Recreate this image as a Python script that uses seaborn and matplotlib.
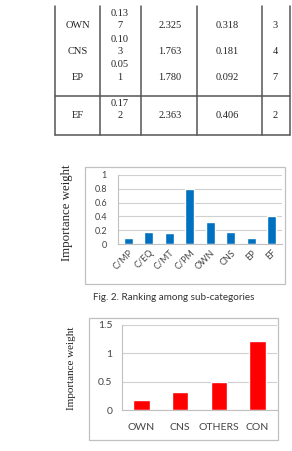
import matplotlib
matplotlib.use("Agg")
import matplotlib.pyplot as plt
import seaborn as sns
import pandas as pd
from matplotlib.patches import Rectangle

# table rows (cut off at top of page)
tab_names = ["OWN", "CNS", "EP", "EF"]
tab_col2 = ["0.137", "0.103", "0.051", "0.172"]
tab_col3 = ["2.325", "1.763", "1.780", "2.363"]
tab_col4 = ["0.318", "0.181", "0.092", "0.406"]
tab_rank = ["3", "4", "7", "2"]

# Fig. 2 sub-categories
sub_cats = ["C/MP", "C/EQ", "C/MT", "C/PM", "OWN", "CNS", "EP", "EF"]
sub_vals = [0.08, 0.17, 0.16, 0.79, 0.318, 0.181, 0.092, 0.406]

# main categories
main_cats = ["OWN", "CNS", "OTHERS", "CON"]
main_vals = [0.18, 0.32, 0.50, 1.21]

sns.set_style("white")
W, H = 292, 451
fig = plt.figure(figsize=(W / 100, H / 100), dpi=100)

# overlay in pixel coords for the page bits (table, frames, captions)
page = fig.add_axes([0, 0, 1, 1])
page.set_xlim(0, W)
page.set_ylim(H, 0)
page.axis("off")
page.patch.set_alpha(0)

serif = ["Liberation Serif", "DejaVu Serif"]
sans = ["Lato", "DejaVu Sans"]

# table grid
lc = "#555555"
for x in [55, 100, 141, 197, 262, 290]:
    page.plot([x, x], [6, 135], color=lc, lw=1.1)
for y in [96, 135]:
    page.plot([55, 290], [y, y], color=lc, lw=1.1)

row_y = [26, 52, 77, 116]
col_x = [78, 120, 170, 227, 275]
for i in range(len(tab_names)):
    y = row_y[i]
    v = tab_col2[i]
    page.text(col_x[0], y, tab_names[i], ha="center", va="center", fontsize=7.5, family=serif, color="#222222")
    page.text(col_x[1], y - 12.5, v[:4], ha="center", va="center", fontsize=7.5, family=serif, color="#222222")
    page.text(col_x[1], y, v[4:], ha="center", va="center", fontsize=7.5, family=serif, color="#222222")
    page.text(col_x[2], y, tab_col3[i], ha="center", va="center", fontsize=7.5, family=serif, color="#222222")
    page.text(col_x[3], y, tab_col4[i], ha="center", va="center", fontsize=7.5, family=serif, color="#222222")
    page.text(col_x[4], y, tab_rank[i], ha="center", va="center", fontsize=7.5, family=serif, color="#222222")

# chart frames
page.add_patch(Rectangle((85, 167), 200, 117, fill=False, ec="#c0c0c0", lw=0.9))
page.add_patch(Rectangle((89, 318), 189, 122, fill=False, ec="#c0c0c0", lw=0.9))

page.text(67, 213, "Importance weight", rotation=90, ha="center", va="center", fontsize=9.3, family=serif, color="#222222")
page.text(72, 368, "Importance weight", rotation=90, ha="center", va="center", fontsize=8, family=serif, color="#222222")
page.text(174, 297, "Fig. 2. Ranking among sub-categories", ha="center", va="center", fontsize=7.1, family=sans, color="#333333")


def excel_axes(ax, n, ticks, fs, pad):
    ax.set_xlim(-0.5, n - 0.5)
    ax.set_yticks(ticks)
    ax.set_yticklabels([("%g" % t) for t in ticks], fontsize=fs, family=sans, color="#444444")
    ax.grid(axis="y", color="#d0d0d0", lw=0.8)
    ax.set_axisbelow(True)
    for s in ["top", "right"]:
        ax.spines[s].set_visible(False)
    for s in ["left", "bottom"]:
        ax.spines[s].set_color("#c0c0c0")
        ax.spines[s].set_linewidth(0.8)
    ax.set_xticks([i + 0.5 for i in range(-1, n)], minor=True)
    ax.tick_params(axis="x", which="major", length=0, pad=3)
    ax.tick_params(axis="x", which="minor", length=3, color="#c0c0c0", direction="out")
    ax.tick_params(axis="y", length=3, color="#c0c0c0", direction="out", pad=pad)
    ax.set_xlabel("")
    ax.set_ylabel("")


# blue chart
ax1 = fig.add_axes([118 / W, 1 - 244 / H, 164 / W, 69 / H])
df1 = pd.DataFrame({"cat": sub_cats, "val": sub_vals})
sns.barplot(data=df1, x="cat", y="val", color="#0070c0", saturation=1, width=0.45, ax=ax1)
ax1.set_ylim(0, 1)
excel_axes(ax1, len(sub_cats), [0, 0.2, 0.4, 0.6, 0.8, 1], 6.5, 5)
ax1.set_xticks(range(len(sub_cats)))
ax1.set_xticklabels(sub_cats, rotation=45, ha="right", rotation_mode="anchor", fontsize=6.5, family=sans, color="#444444")

# red chart
ax2 = fig.add_axes([122 / W, 1 - 410 / H, 155 / W, 85 / H])
df2 = pd.DataFrame({"cat": main_cats, "val": main_vals})
sns.barplot(data=df2, x="cat", y="val", color="#ff0000", saturation=1, width=0.42, ax=ax2)
ax2.set_ylim(0, 1.5)
excel_axes(ax2, len(main_cats), [0, 0.5, 1, 1.5], 7.5, 4)
ax2.set_xticks(range(len(main_cats)))
ax2.set_xticklabels(main_cats, fontsize=7.5, family=sans, color="#444444")
ax2.tick_params(axis="x", which="major", pad=9)

fig.savefig("out.png", dpi=100)
